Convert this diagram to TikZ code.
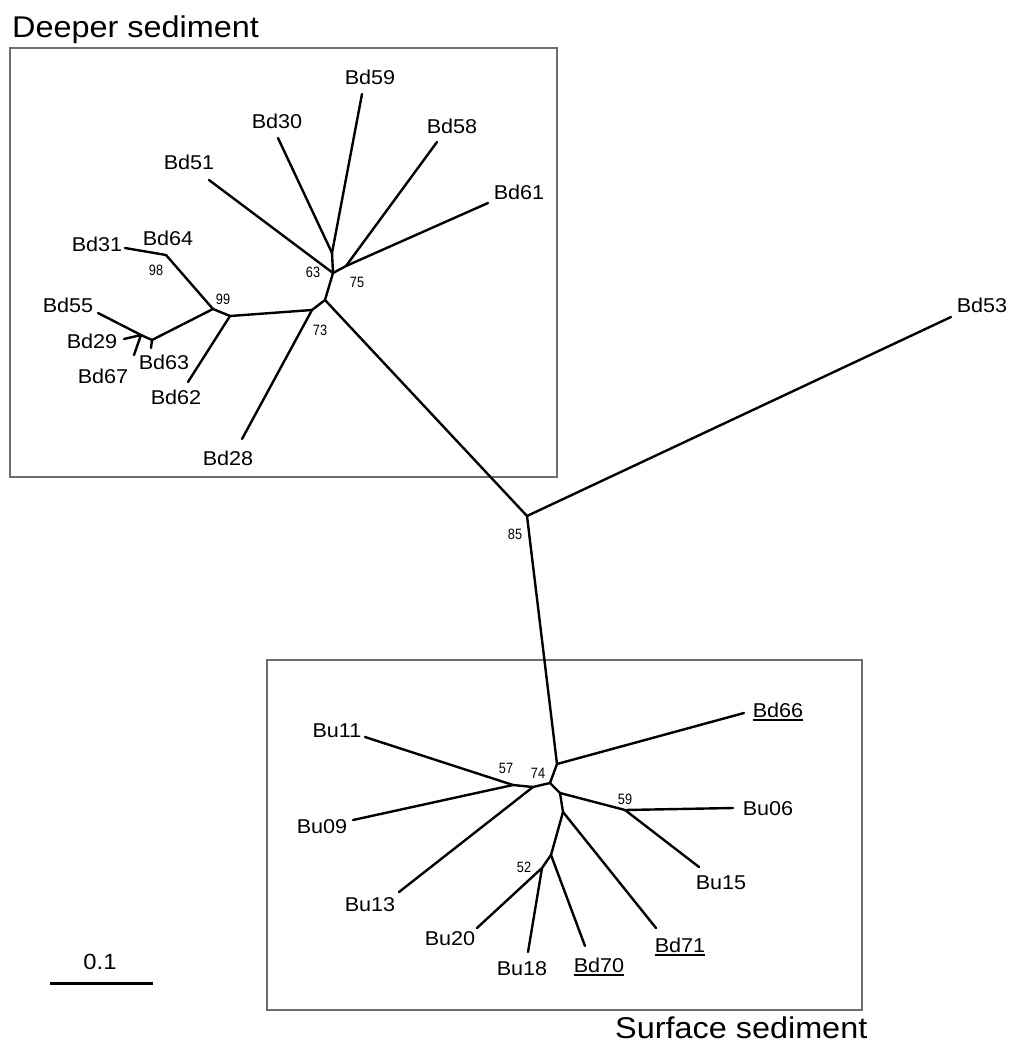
\documentclass[tikz,border=0pt]{standalone}
\usepackage{fontspec}
\newfontfamily\lab{Liberation Sans}[FakeStretch=1.08]
\newfontfamily\bsf{Liberation Sans}[FakeStretch=0.85]

\begin{document}
\begin{tikzpicture}[x=1pt,y=-1pt,
  branch/.style={line width=2.4pt, line cap=round, line join=round},
  taxon/.style={font=\lab\fontsize{20}{22}\selectfont, inner sep=0pt, anchor=base},
  boot/.style={font=\bsf\fontsize{15}{16}\selectfont, inner sep=0pt},
  heading/.style={font=\lab\fontsize{30}{32}\selectfont, inner sep=0pt, anchor=base west},
  frame/.style={draw={rgb,255:red,110;green,110;blue,110}, line width=1.2pt},
  uline/.style={line width=1.3pt}]

\useasboundingbox (0,0) rectangle (1010,1052);

% group frames and headings
\draw[frame] (10,48) rectangle (557,477);
\draw[frame] (267,660) rectangle (862,1010);
\node[heading] (tdeep) at (12,37) {Deeper sediment};
\node[heading] (tsurf) at (615,1038) {Surface sediment};

% ---------- internal nodes ----------
\coordinate (n85) at (527,516);
\coordinate (n73a) at (325,300);
\coordinate (n73b) at (312,310);
\coordinate (n63) at (333,273);
\coordinate (n63u) at (332,253);
\coordinate (n75) at (346,266);
\coordinate (n62) at (230,316);
\coordinate (n99) at (213,309);
\coordinate (n98) at (166,255);
\coordinate (nA) at (152,340);
\coordinate (nB) at (141,335);

\coordinate (n66) at (557,764);
\coordinate (n74) at (550,783);
\coordinate (n13) at (533,787);
\coordinate (n57) at (513,785);
\coordinate (nR) at (560,793);
\coordinate (n59) at (625,810);
\coordinate (n71) at (563,812);
\coordinate (n70) at (551,855);
\coordinate (n52) at (542,868);

% ---------- branch tips ----------
\coordinate (e53) at (951,317);
\coordinate (e51) at (209,180);
\coordinate (e30) at (278,138);
\coordinate (e59) at (362,94);
\coordinate (e58) at (437,142);
\coordinate (e61) at (488,203);
\coordinate (e28) at (242,439);
\coordinate (e31) at (125,248);
\coordinate (e55) at (98,313);
\coordinate (e29) at (124,339);
\coordinate (e67) at (134,355);
\coordinate (e63) at (151,348);
\coordinate (e62) at (188,382);

\coordinate (e66) at (744,713);
\coordinate (e11) at (365,737);
\coordinate (e09) at (353,820);
\coordinate (e13) at (399,892);
\coordinate (e06) at (733,808);
\coordinate (e15) at (699,867);
\coordinate (e71) at (656,928);
\coordinate (e70) at (585,946);
\coordinate (e20) at (477,928);
\coordinate (e18) at (528,952);

% ---------- branches ----------
\draw[branch] (n85) -- (e53);
\draw[branch] (n85) -- (n73a);
\draw[branch] (n85) -- (n66);

% deeper clade
\draw[branch] (n73a) -- (n63);
\draw[branch] (n73a) -- (n73b);
\draw[branch] (n73b) -- (e28);
\draw[branch] (n73b) -- (n62);
\draw[branch] (n63) -- (e51);
\draw[branch] (n63) -- (n63u);
\draw[branch] (n63u) -- (e30);
\draw[branch] (n63u) -- (e59);
\draw[branch] (n63) -- (n75);
\draw[branch] (n75) -- (e58);
\draw[branch] (n75) -- (e61);
\draw[branch] (n62) -- (e62);
\draw[branch] (n62) -- (n99);
\draw[branch] (n99) -- (n98);
\draw[branch] (n98) -- (e31);
\draw[branch] (n99) -- (nA);
\draw[branch] (nA) -- (e63);
\draw[branch] (nA) -- (nB);
\draw[branch] (nB) -- (e55);
\draw[branch] (nB) -- (e29);
\draw[branch] (nB) -- (e67);

% surface clade
\draw[branch] (n66) -- (e66);
\draw[branch] (n66) -- (n74);
\draw[branch] (n74) -- (n13);
\draw[branch] (n13) -- (e13);
\draw[branch] (n13) -- (n57);
\draw[branch] (n57) -- (e11);
\draw[branch] (n57) -- (e09);
\draw[branch] (n74) -- (nR);
\draw[branch] (nR) -- (n59);
\draw[branch] (n59) -- (e06);
\draw[branch] (n59) -- (e15);
\draw[branch] (nR) -- (n71);
\draw[branch] (n71) -- (e71);
\draw[branch] (n71) -- (n70);
\draw[branch] (n70) -- (e70);
\draw[branch] (n70) -- (n52);
\draw[branch] (n52) -- (e20);
\draw[branch] (n52) -- (e18);

% ---------- taxon labels ----------
\node[taxon] (l53) at (982,312) {Bd53};
\node[taxon] (l59) at (370,84) {Bd59};
\node[taxon] (l30) at (277,128) {Bd30};
\node[taxon] (l58) at (452,133) {Bd58};
\node[taxon] (l61) at (519,199) {Bd61};
\node[taxon] (l51) at (189,169) {Bd51};
\node[taxon] (l31) at (97,251) {Bd31};
\node[taxon] (l64) at (168,245) {Bd64};
\node[taxon] (l55) at (68,312) {Bd55};
\node[taxon] (l29) at (92,348) {Bd29};
\node[taxon] (l67) at (103,383) {Bd67};
\node[taxon] (l63) at (164,369) {Bd63};
\node[taxon] (l62) at (176,404) {Bd62};
\node[taxon] (l28) at (228,465) {Bd28};

\node[taxon] (l66) at (778,717) {Bd66};
\node[taxon] (l11) at (337,737) {Bu11};
\node[taxon] (l09) at (322,833) {Bu09};
\node[taxon] (l13) at (370,911) {Bu13};
\node[taxon] (l06) at (768,815) {Bu06};
\node[taxon] (l15) at (721,889) {Bu15};
\node[taxon] (l71) at (680,952) {Bd71};
\node[taxon] (l70) at (599,972) {Bd70};
\node[taxon] (l20) at (450,945) {Bu20};
\node[taxon] (l18) at (522,975) {Bu18};

% underlined taxa
\foreach \u in {l66,l71,l70}
  \draw[uline] ([yshift=-3pt]\u.base west) -- ([yshift=-3pt]\u.base east);

% ---------- bootstrap values ----------
\node[boot] (b63) at (313,272) {63};
\node[boot] (b75) at (357,282) {75};
\node[boot] (b73) at (320,330) {73};
\node[boot] (b98) at (156,270) {98};
\node[boot] (b99) at (223,299) {99};
\node[boot] (b85) at (515,534) {85};
\node[boot] (b74) at (538,773) {74};
\node[boot] (b57) at (506,768) {57};
\node[boot] (b59) at (625,799) {59};
\node[boot] (b52) at (524,867) {52};

% ---------- scale bar ----------
\coordinate (sbl) at (50,983);
\coordinate (sbr) at (153,983);
\draw[line width=3pt] (sbl) -- (sbr);
\node[font=\lab\fontsize{22}{24}\selectfont, inner sep=0pt, anchor=base] (sbt) at (100,969) {0.1};
\end{tikzpicture}
\end{document}
